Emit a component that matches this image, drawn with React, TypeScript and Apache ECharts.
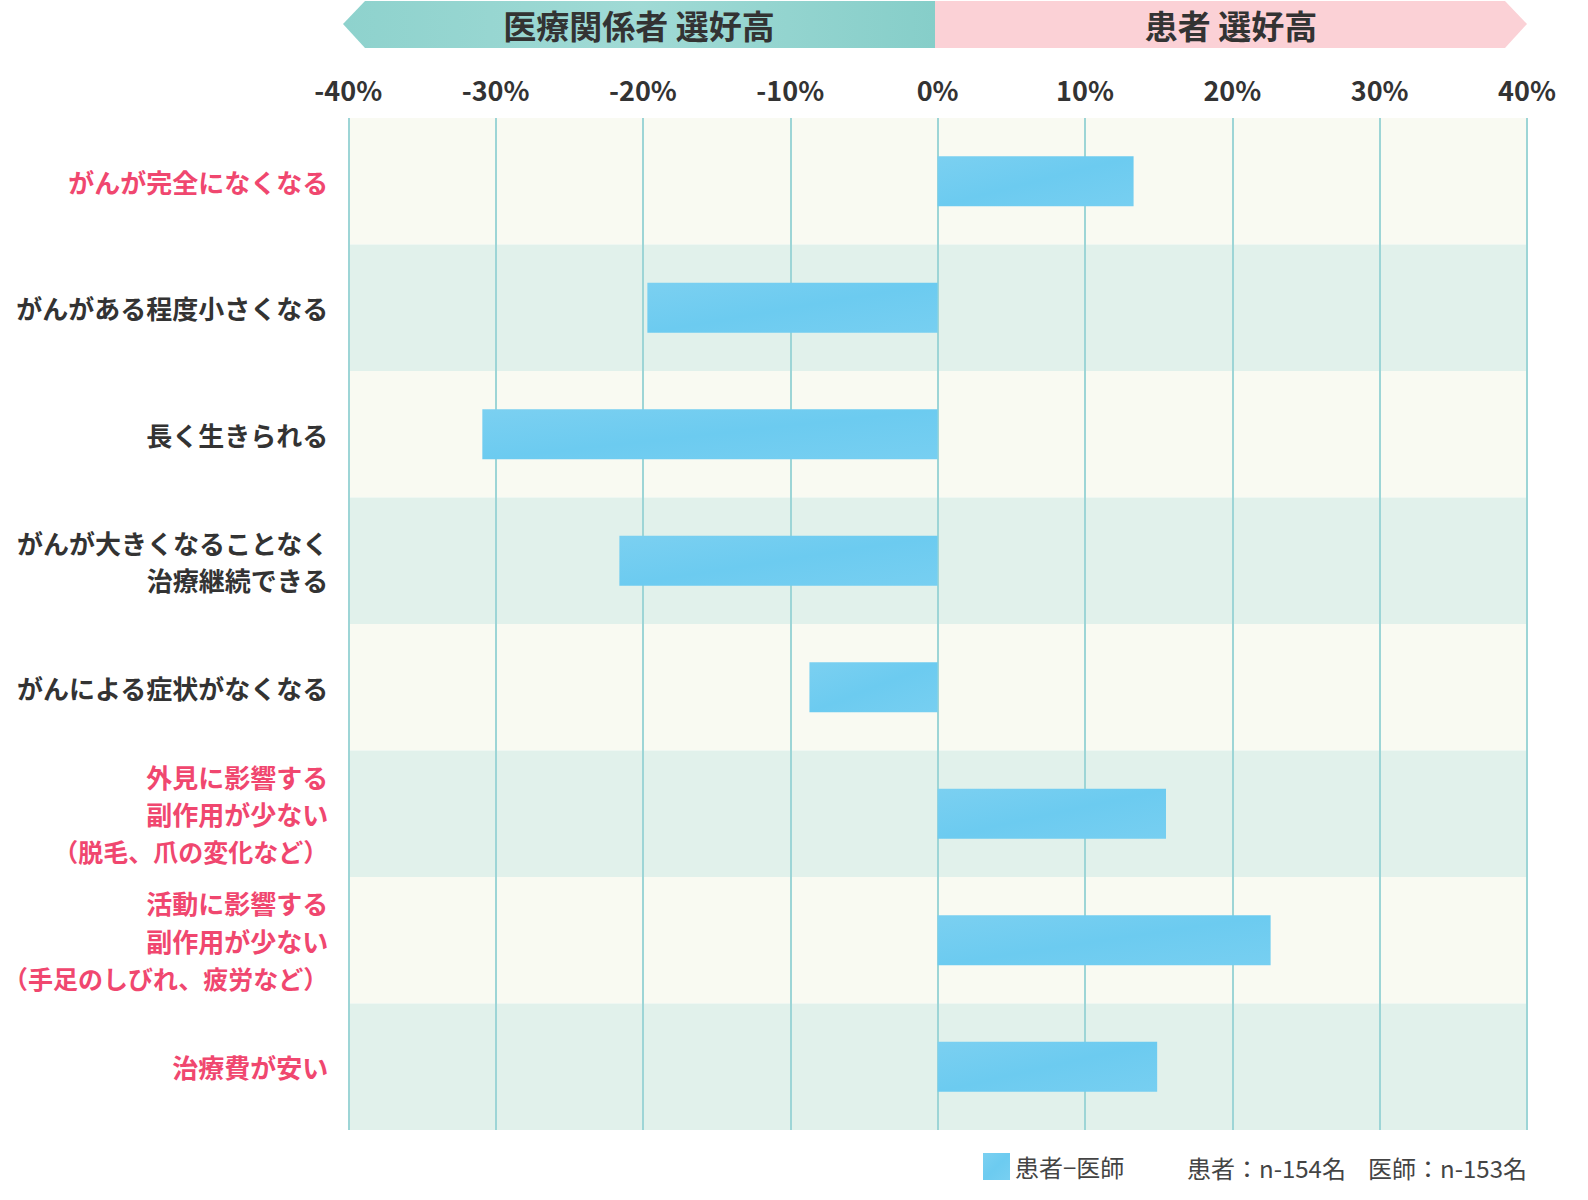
import React, { useEffect, useRef } from 'react';
import * as echarts from 'echarts';

const categories = [
  'がんが完全になくなる',
  'がんがある程度小さくなる',
  '長く生きられる',
  'がんが大きくなることなく\n治療継続できる',
  'がんによる症状がなくなる',
  '外見に影響する\n副作用が少ない\n（脱毛、爪の変化など）',
  '活動に影響する\n副作用が少ない\n（手足のしびれ、疲労など）',
  '治療費が安い',
];
// categories drawn in pink
const highlighted = [0, 5, 6, 7];
const diffValues = [13.3, -19.7, -30.9, -21.6, -8.7, 15.5, 22.6, 14.9];
const seriesName = '患者−医師';
const sampleNotes = ['患者：n-154名', '医師：n-153名'];
const bannerLabels = ['医療関係者 選好高', '患者 選好高'];

const FONT = '"Noto Sans CJK JP", "Noto Sans", sans-serif';

const App: React.FC = () => {
  const chartRef = useRef<HTMLDivElement>(null);

  useEffect(() => {
    document.body.style.margin = '0';
    if (!chartRef.current) return;
    const chart = echarts.init(chartRef.current, undefined, { renderer: 'svg' });

    const labelStyle = (color: string, size: number) => ({
      color,
      fontSize: size,
      fontWeight: 'bold',
      lineHeight: 37.5,
      fontFamily: FONT,
      align: 'right',
    });

    const option: any = {
      animation: false,
      backgroundColor: '#ffffff',
      textStyle: { fontFamily: FONT },
      grid: { left: 343, right: 61, top: 118, bottom: 70 },
      legend: {
        data: [seriesName],
        left: 983,
        top: 1153,
        padding: 0,
        icon: 'rect',
        itemWidth: 27,
        itemHeight: 27,
        itemGap: 10,
        textStyle: { fontSize: 24, color: '#444', fontFamily: FONT },
      },
      xAxis: {
        type: 'value',
        position: 'top',
        min: -40,
        max: 40,
        interval: 10,
        axisLine: { show: false },
        axisTick: { show: false },
        axisLabel: {
          formatter: '{value}%',
          fontSize: 27,
          fontWeight: 'bold',
          color: '#333',
          margin: 15,
          fontFamily: FONT,
        },
        splitLine: { lineStyle: { color: '#9dd5d6', width: 2 } },
      },
      yAxis: {
        type: 'category',
        inverse: true,
        data: categories,
        axisLine: { show: false },
        axisTick: { show: false },
        splitArea: {
          show: true,
          areaStyle: { color: ['#f9faf2', '#e1f1eb'] },
        },
        axisLabel: {
          margin: 20,
          fontFamily: FONT,
          formatter: (value: string, idx: number) => {
            const key = highlighted.includes(idx) ? 'p' : 'd';
            return value
              .split('\n')
              .map((l) => `{${key}${l.startsWith('（') ? 's' : ''}|${l}}`)
              .join('\n');
          },
          rich: {
            p: labelStyle('#f0476f', 26),
            ps: labelStyle('#f0476f', 25),
            d: labelStyle('#333333', 26),
            ds: labelStyle('#333333', 25),
          },
        },
      },
      series: [
        {
          name: seriesName,
          type: 'bar',
          barWidth: 50,
          data: diffValues,
          itemStyle: {
            color: new echarts.graphic.LinearGradient(0, 0, 1, 1, [
              { offset: 0, color: '#7bd0f1' },
              { offset: 0.5, color: '#6ccbf0' },
              { offset: 1, color: '#77cff1' },
            ]),
          },
        },
      ],
      graphic: [
        {
          type: 'polygon',
          shape: { points: [[343, 24], [365, 1], [935, 1], [935, 48], [365, 48]] },
          style: {
            fill: new echarts.graphic.LinearGradient(0, 0, 1, 0, [
              { offset: 0, color: '#8ed2cd' },
              { offset: 0.5, color: '#a0dad5' },
              { offset: 1, color: '#86cec9' },
            ]),
          },
        },
        {
          type: 'polygon',
          shape: { points: [[935, 1], [1505, 1], [1527, 24], [1505, 48], [935, 48]] },
          style: { fill: '#fbd1d6' },
        },
        {
          type: 'text',
          x: 639,
          y: 25,
          style: {
            text: bannerLabels[0],
            fontSize: 33,
            fontWeight: 'bold',
            fill: '#333',
            fontFamily: FONT,
            align: 'center',
            verticalAlign: 'middle',
          },
        },
        {
          type: 'text',
          x: 1231,
          y: 25,
          style: {
            text: bannerLabels[1],
            fontSize: 33,
            fontWeight: 'bold',
            fill: '#333',
            fontFamily: FONT,
            align: 'center',
            verticalAlign: 'middle',
          },
        },
        {
          type: 'text',
          x: 1187,
          y: 1167,
          style: {
            text: sampleNotes[0],
            fontSize: 24,
            fill: '#444',
            fontFamily: FONT,
            align: 'left',
            verticalAlign: 'middle',
          },
        },
        {
          type: 'text',
          x: 1527,
          y: 1167,
          style: {
            text: sampleNotes[1],
            fontSize: 24,
            fill: '#444',
            fontFamily: FONT,
            align: 'right',
            verticalAlign: 'middle',
          },
        },
      ],
    };

    chart.setOption(option);
    return () => {
      chart.dispose();
    };
  }, []);

  return <div ref={chartRef} style={{ width: 1588, height: 1200 }} />;
};

export default App;
